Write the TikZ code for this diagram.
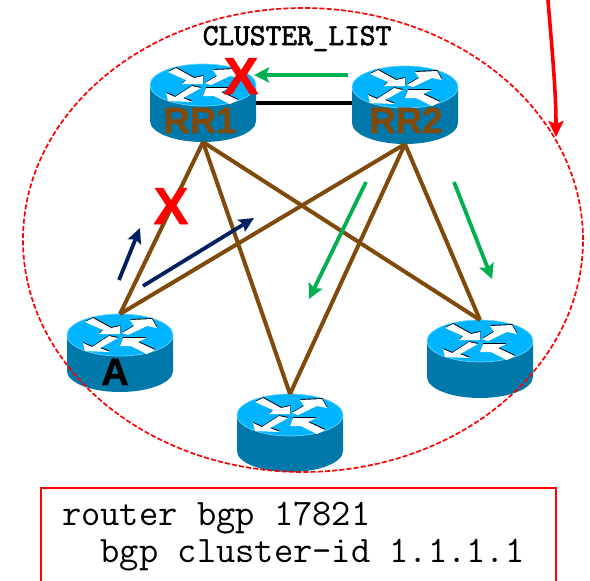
\documentclass[tikz,border=0pt]{standalone}
\usepackage{fontspec}
\setmainfont{Liberation Sans}
\newfontfamily\clusterfont[FakeBold=2.2]{Latin Modern Mono}
\newfontfamily\rrfont[FakeBold=1.2]{Liberation Sans Bold}
\usetikzlibrary{arrows.meta}
\definecolor{rtop}{HTML}{00B4FF}
\definecolor{rside}{HTML}{0078AA}
\definecolor{redge}{HTML}{66D2FF}
\definecolor{brownl}{HTML}{7F4A0B}
\definecolor{greena}{HTML}{00B050}
\definecolor{navya}{HTML}{002060}
\tikzset{
  x=1pt,y=-1pt,
  routerbox/.style={inner sep=0pt,minimum width=106pt,minimum height=78pt,outer sep=0pt},
  link/.style={draw=brownl,line width=4pt},
  greenarrow/.style={draw=greena,line width=3.8pt,-{Stealth[length=15pt,width=15pt,inset=3pt]}},
  navyarrow/.style={draw=navya,line width=3.8pt,-{Stealth[length=15pt,width=14pt,inset=3pt]}},
  rlabel/.style={anchor=base,inner sep=0pt,font=\fontsize{36.5}{36.5}\selectfont\rrfont,text=brownl},
  xmark/.style={anchor=base,inner sep=0pt,font=\fontsize{52}{52}\selectfont\rrfont,text=red},
  codeline/.style={anchor=base west,inner sep=0pt,font=\fontsize{36.5}{36.5}\selectfont\ttfamily},
}
\newcommand{\arrowset}{%
  (-35,-13)--(-27,-17)--(-9,-7)--(0,-9)--(0,-1)--(-21,-1)--(-17,-5)--cycle
  (2,-2)--(14,-9)--(10,-15)--(32,-16)--(37,-7)--(27,-9)--(8,0)--cycle
  (-2,3)--(-20,13)--(-10,17)--(-35,16)--(-37,8)--(-28,12)--(-11,1)--cycle
  (0,11)--(3,3)--(26,3)--(18,7)--(35,15)--(27,19)--(11,11)--cycle
}
\newcommand{\router}[3]{%
  \begin{scope}[shift={(#2,#3)}]
    \fill[rside] (-53,0) -- (-53,36) arc[start angle=180,end angle=360,x radius=53pt,y radius=21pt] -- (53,0) -- cycle;
    \path[fill=rtop,draw=redge,line width=0.7pt] (0,0) ellipse[x radius=53pt,y radius=21pt];
    \begin{scope}[shift={(0.3,-0.9)}]
      \fill[black] \arrowset;
    \end{scope}
    \fill[white] \arrowset;
    \node[routerbox] (#1) at (0,18) {};
  \end{scope}}
\begin{document}
\begin{tikzpicture}
\useasboundingbox (0,0) rectangle (590,581);
\fill[white] (0,0) rectangle (590,581);
\router{rr1}{203}{85}
\router{rr2}{405}{87}
\router{a}{120}{335}
\router{b}{290}{415}
\router{c}{480}{341}
% links
\draw[link] (rr1.south) -- (a.north);
\draw[link] (rr1.south) -- (b.north);
\draw[link] (rr1.south) -- (c.north);
\draw[link] (rr2.south) -- (a.north);
\draw[link] (rr2.south) -- (b.north);
\draw[link] (rr2.south) -- (c.north);
\draw[black,line width=3.6pt] (rr1.east) -- (rr1.east -| rr2.west);
% cluster ellipse
\coordinate (cl) at (303,240);
\draw[red,line width=1.7pt,dash pattern=on 5pt off 2.2pt] (cl) ellipse[x radius=280pt,y radius=232pt];
% incoming red arrow
\coordinate (rs) at (548,0);
\coordinate (re) at (556,137);
\draw[red,line width=3.6pt,-{Stealth[length=16pt,width=15pt,inset=3pt]}] (rs) .. controls (552,50) and (556,90) .. (re);
% updates
\coordinate (g1s) at (348,75); \coordinate (g1e) at (254,75);
\coordinate (g2s) at (366,182); \coordinate (g2e) at (309,299);
\coordinate (g3s) at (454,182); \coordinate (g3e) at (492,279);
\coordinate (n1s) at (119,280); \coordinate (n1e) at (140,228);
\coordinate (n2s) at (143,286); \coordinate (n2e) at (254,218);
\draw[greenarrow] (g1s) -- (g1e);
\draw[greenarrow] (g2s) -- (g2e);
\draw[greenarrow] (g3s) -- (g3e);
\draw[navyarrow] (n1s) -- (n1e);
\draw[navyarrow] (n2s) -- (n2e);
% labels
\node[rlabel] (lrr1) at (200,133) {RR1};
\node[rlabel] (lrr2) at (406,133) {RR2};
\node[anchor=base,inner sep=0pt,font=\fontsize{38}{38}\selectfont\rrfont] (la) at (115,385) {A};
\node[xmark] (x1) at (241,94) {X};
\node[xmark] (x2) at (171,224) {X};
\node[anchor=base,inner sep=0pt,font=\fontsize{30.5}{30.5}\selectfont\clusterfont] (cll) at (297,45) {CLUSTER\_LIST};
% config box
\draw[red,line width=1.8pt] (41,585) -- (41,488) -- (556,488) -- (556,585);
\node[codeline,font=\fontsize{37.4}{37.4}\selectfont\ttfamily] (l1) at (62,525) {router bgp 17821};
\node[codeline,font=\fontsize{37.4}{37.4}\selectfont\ttfamily] (l2) at (62,562) {\ \ bgp cluster-id 1.1.1.1};
\end{tikzpicture}
\end{document}
